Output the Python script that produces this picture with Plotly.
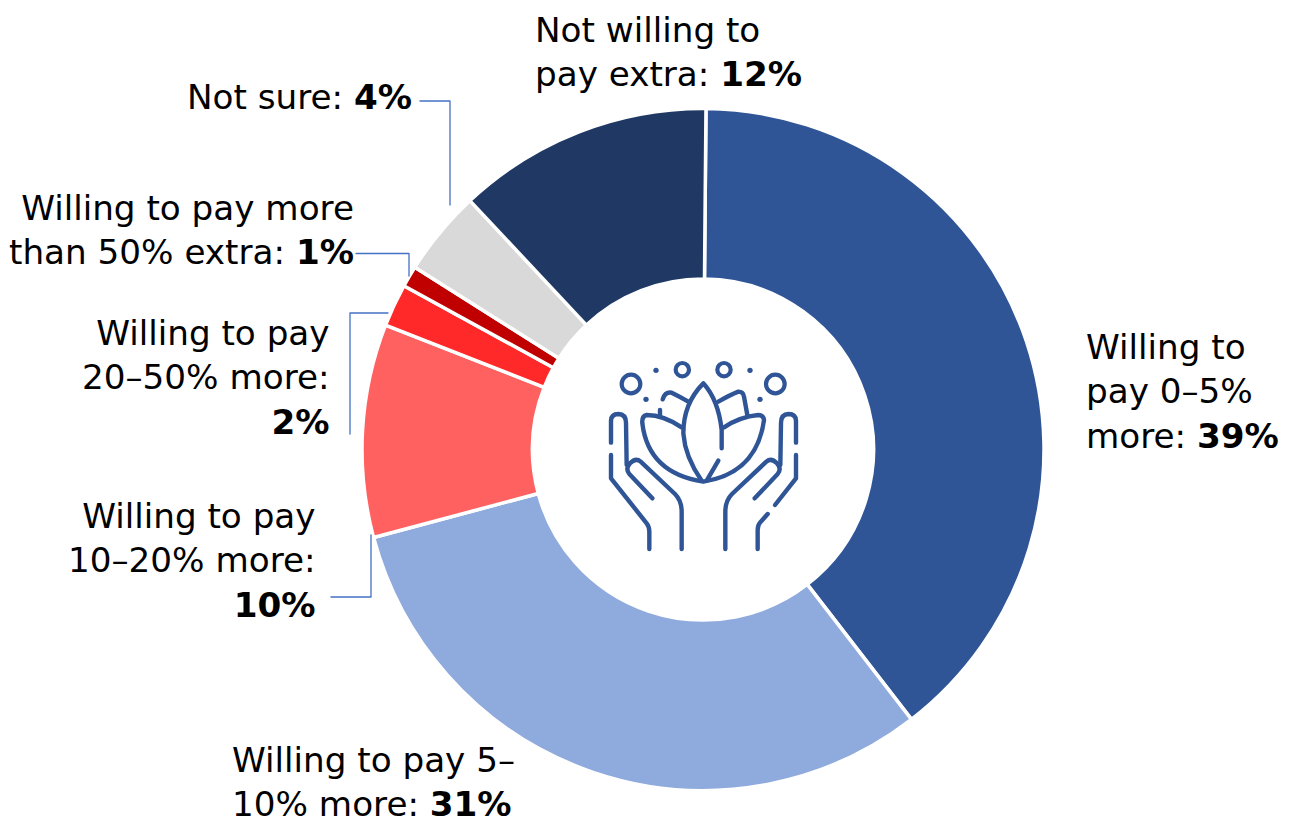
import re
import plotly.graph_objects as go

W, H = 1289, 827
FONT = "DejaVu Sans"
FS = 34.2

categories = ["Willing to pay 0–5% more", "Willing to pay 5–10% more", "Willing to pay 10–20% more",
              "Willing to pay 20–50% more", "Willing to pay more than 50% extra", "Not sure",
              "Not willing to pay extra"]
values = [39, 31, 10, 2, 1, 4, 12]
colors = ["#2F5597", "#8FAADC", "#FF6161", "#FF2929", "#C00000", "#D9D9D9", "#1F3864"]

# (text, anchor, x, y-centre) for each label block
label_blocks = [
    ("Not willing to<br>pay extra: <b>12%</b>", "left", 533, 52),
    ("Not sure: <b>4%</b>", "right", 414, 97),
    ("Willing to pay more<br>than 50% extra: <b>1%</b>", "right", 356, 230),
    ("Willing to pay<br>20–50% more:<br><b>2%</b>", "right", 332, 377),
    ("Willing to pay<br>10–20% more:<br><b>10%</b>", "right", 318, 560),
    ("Willing to pay 5–<br>10% more: <b>31%</b>", "left", 230, 782),
    ("Willing to<br>pay 0–5%<br>more: <b>39%</b>", "left", 1084, 391),
]

leaders = [
    [(420, 101), (450, 101), (450, 205)],
    [(356, 253.5), (409, 253.5), (409, 276)],
    [(388, 313), (350, 313), (350, 434)],
    [(371, 535), (371, 597), (331, 597)],
]

CX, CY, R = 703, 449.5, 341

def px(x): return x / W
def py(y): return 1 - y / H

fig = go.Figure(go.Pie(
    labels=categories, values=values, sort=False, direction="clockwise", rotation=0.5,
    hole=0.5, textinfo="none", showlegend=False,
    marker=dict(colors=colors, line=dict(color="#FFFFFF", width=3.5)),
    domain=dict(x=[px(CX - R), px(CX + R)], y=[py(CY + R), py(CY - R)]),
))

shapes = []
for pts in leaders:
    d = "M" + " L".join(f"{px(x):.5f},{py(y):.5f}" for x, y in pts)
    shapes.append(dict(type="path", path=d, xref="paper", yref="paper",
                       line=dict(color="#4472C4", width=1.3)))

# ---- centre icon, traced in a 3x crop whose origin is (590, 350)
ICON = "#2F5597"
def conv(d):
    nums = iter(range(10**6))
    def rep(m):
        i = next(nums)
        v = float(m.group(0))
        return f"{px(590 + v / 3):.5f}" if i % 2 == 0 else f"{py(350 + v / 3):.5f}"
    return re.sub(r"\d+(?:\.\d+)?", rep, d)

def mirror(d):
    nums = iter(range(10**6))
    def rep(m):
        i = next(nums)
        return str(681 - float(m.group(0))) if i % 2 == 0 else m.group(0)
    return re.sub(r"\d+(?:\.\d+)?", rep, d)

finger = ("M187,445 L118,372 Q105,355 120,340 Q137,322 152,335 L255,432 "
          "Q275,452 275,485 L275,597")
left_upper = "M63,278 L63,212 Q64,192 85,192 Q108,193 108,218 L110,345"
left_lower = "M63,315 L63,385 L170,520 Q178,530 178,545 L178,597"
icon_paths = [
    finger, mirror(finger), left_upper, mirror(left_upper), left_lower,
    "M618,315 L618,385 L555,465",
    "M533,492 L510,518 Q503,526 503,540 L503,597",
    "M395,295 L395,240 Q385,150 340,100 Q280,160 280,250 Q285,320 335,392",
    "M385,332 L350,392",
    "M275,232 Q220,195 170,195 Q155,198 157,220 Q175,370 340,395 Q500,370 522,210 "
    "Q520,195 505,195 Q450,200 402,232",
    "M218,148 Q225,125 245,128 Q270,140 295,155",
    "M210,180 L210,200",
    "M385,155 Q420,135 445,125 Q460,125 462,140 L472,195",
]
for d in icon_paths:
    shapes.append(dict(type="path", path=conv(d), xref="paper", yref="paper",
                       line=dict(color=ICON, width=4.4)))

rings = [(123, 102, 28), (277, 59, 20), (402, 59, 20), (556, 102, 28)]
dots = [(198, 61, 8), (480, 61, 8), (168, 148, 8), (510, 148, 8)]
for x, y, r in rings + dots:
    is_dot = (x, y, r) in dots
    x0, x1 = 590 + (x - r) / 3, 590 + (x + r) / 3
    y0, y1 = 350 + (y - r) / 3, 350 + (y + r) / 3
    shapes.append(dict(type="circle", xref="paper", yref="paper",
                       x0=px(x0), x1=px(x1), y0=py(y1), y1=py(y0),
                       fillcolor=ICON if is_dot else "rgba(0,0,0,0)",
                       line=dict(color=ICON, width=0 if is_dot else 4.2)))

annotations = [dict(text=t, x=px(x), y=py(y), xref="paper", yref="paper",
                    xanchor=a, yanchor="middle", align=a, showarrow=False,
                    font=dict(family=FONT, size=FS, color="#000000"))
               for t, a, x, y in label_blocks]

fig.update_layout(width=W, height=H, margin=dict(l=0, r=0, t=0, b=0),
                  paper_bgcolor="#FFFFFF", plot_bgcolor="#FFFFFF",
                  shapes=shapes, annotations=annotations)
fig.write_html("out.html", config={"displayModeBar": False},
               post_script="document.body.style.margin='0';document.body.style.overflow='hidden';"
                           "document.querySelectorAll('.shapelayer path').forEach(function(p){"
                           "p.style.strokeLinecap='round';p.style.strokeLinejoin='round';});")
